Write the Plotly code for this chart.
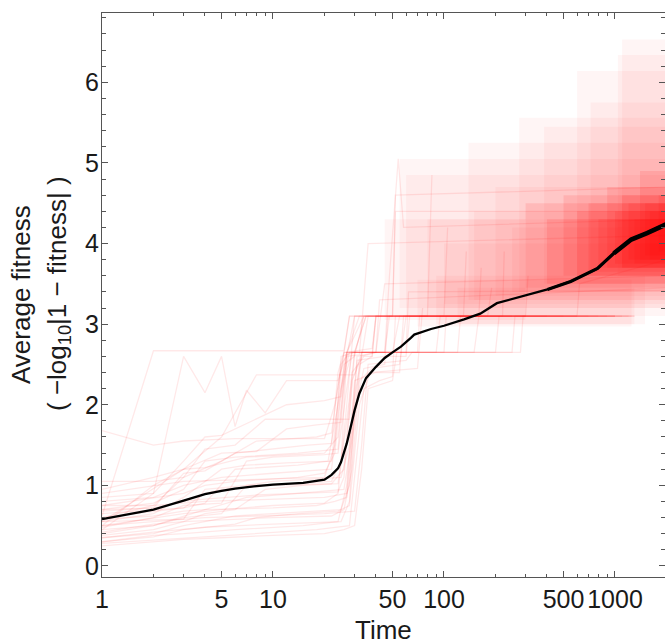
import plotly.graph_objects as go

# ---------------- data ----------------
# mean fitness curve (time, value)
mean_t = [1, 2, 3, 4, 5, 6, 8, 10, 15, 18, 20, 22, 24, 25, 26, 27, 28, 30, 32, 35, 40, 45, 50,
          56, 64, 67, 84, 100, 131, 163, 204, 280, 403, 551, 790, 985, 1245, 1540, 1940, 2000]
mean_v = [0.58, 0.70, 0.81, 0.89, 0.93, 0.96, 0.99, 1.01, 1.03, 1.05, 1.07, 1.13, 1.21, 1.29, 1.40,
          1.52, 1.66, 1.93, 2.14, 2.33, 2.47, 2.58, 2.65, 2.72, 2.83, 2.87, 2.94, 2.98, 3.06, 3.13,
          3.26, 3.34, 3.43, 3.53, 3.69, 3.88, 4.05, 4.13, 4.23, 4.24]

# individual runs: breakpoints (time, value)
runs = [
    [(1,0.62),(2,2.67),(26,2.67),(28,3.1),(600,3.1),(620,3.5),(2000,3.8)],
    [(1,0.45),(2,0.9),(3,2.6),(4,2.15),(5,2.6),(6,1.73),(7,2.18),(9,1.9),(12,2.3),(24,2.3),(27,2.65),(250,2.65),(260,3.1),(1000,3.1)],
    [(1,0.55),(3,1.2),(5,1.6),(8,2.37),(30,2.37),(33,2.65),(60,2.65),(62,3.4),(2000,3.42)],
    [(1,0.35),(2,0.42),(4,0.48),(10,0.52),(25,0.55),(28,0.8),(30,1.9),(34,2.45),(45,2.5),(47,3.1),(300,3.1),(310,3.6)],
    [(1,0.8),(2,0.85),(3,1.0),(5,1.1),(10,1.15),(22,1.2),(25,2.2),(28,2.65),(150,2.65),(160,3.1),(800,3.1)],
    [(1,0.3),(2,0.38),(3,0.4),(6,0.45),(15,0.5),(24,0.55),(27,1.0),(30,2.3),(40,2.4),(55,2.4),(58,3.1),(1200,3.1)],
    [(1,1.68),(2,1.5),(3,1.55),(6,1.58),(20,1.58),(23,2.0),(26,2.65),(45,2.65),(48,3.1),(130,3.1),(135,3.9)],
    [(1,0.7),(2,0.78),(3,0.95),(4,1.3),(6,1.35),(14,1.4),(24,1.45),(26,2.3),(29,2.65),(70,2.65),(72,3.1),(400,3.1)],
    [(1,0.5),(2,0.6),(3,0.65),(5,0.7),(10,0.75),(20,0.78),(24,0.9),(27,2.0),(30,3.1),(180,3.1),(190,3.45)],
    [(1,0.9),(2,1.0),(3,1.05),(10,1.08),(20,1.1),(23,1.5),(25,2.6),(30,2.65),(35,3.1),(100,3.1),(105,4.2)],
    [(1,0.4),(2,0.5),(4,0.7),(7,0.85),(14,0.9),(26,0.95),(29,1.6),(32,2.5),(38,2.6),(40,3.1),(1300,3.1)],
    [(1,0.6),(2,0.75),(3,1.1),(4,1.45),(6,1.5),(9,1.82),(28,1.82),(30,2.65),(90,2.65),(95,3.1),(700,3.1)],
    [(1,0.28),(2,0.32),(3,0.35),(8,0.4),(18,0.45),(28,0.5),(31,1.4),(34,2.2),(42,2.3),(50,2.35),(52,3.1),(500,3.1)],
    [(1,0.75),(2,0.75),(4,0.8),(8,0.82),(20,0.85),(27,0.9),(30,2.1),(33,2.6),(40,2.65),(42,3.3),(2000,3.45)],
    [(1,0.55),(2,0.65),(3,0.85),(5,1.2),(7,1.25),(12,1.28),(22,1.3),(25,2.4),(28,3.1),(50,3.1),(52,4.6),(2000,4.7)],
    [(1,0.45),(2,0.5),(3,0.6),(5,0.65),(7,1.0),(10,1.05),(25,1.1),(28,1.5),(31,2.55),(45,2.6),(60,2.6),(63,3.1),(250,3.1)],
    [(1,1.05),(2,1.05),(3,1.1),(5,1.3),(8,1.55),(18,1.6),(22,1.65),(25,2.5),(28,2.65),(45,2.65),(48,3.6),(54,5.05),(58,4.2),(2000,4.3)],
    [(1,0.65),(2,0.7),(3,0.72),(4,0.9),(5,0.95),(10,1.0),(22,1.02),(26,1.2),(29,2.4),(34,2.6),(38,2.6),(40,3.1),(160,3.1),(165,3.7)],
    [(1,0.5),(2,0.55),(3,0.58),(4,0.6),(8,0.62),(20,0.65),(30,0.68),(33,1.5),(36,2.5),(60,2.55),(65,2.65),(200,2.65),(210,3.1)],
    [(1,0.38),(2,0.45),(3,0.55),(4,0.65),(6,0.7),(9,0.95),(15,1.0),(24,1.02),(27,1.8),(30,2.65),(35,3.1),(1100,3.1)],
    [(1,0.85),(2,0.9),(3,1.3),(4,1.6),(5,1.62),(12,2.0),(20,2.05),(25,2.1),(27,2.65),(38,2.7),(40,3.1),(900,3.1)],
    [(1,0.3),(2,0.36),(3,0.45),(6,0.52),(8,0.6),(14,0.65),(24,0.68),(28,0.75),(32,2.0),(37,2.4),(70,2.45),(75,3.2)],
    [(1,0.6),(2,0.68),(3,0.72),(4,0.78),(6,1.2),(14,1.25),(21,1.3),(24,2.0),(27,2.65),(32,3.1),(1000,3.1)],
    [(1,0.42),(2,0.52),(3,0.55),(5,0.57),(10,0.6),(22,0.62),(26,0.7),(29,1.2),(32,2.3),(38,2.45),(55,2.5),(60,3.1),(300,3.1)],
    [(1,0.7),(2,0.72),(3,1.15),(4,1.18),(6,1.4),(10,1.45),(16,1.5),(22,1.52),(24,2.4),(26,2.65),(40,2.65),(45,3.5),(2000,3.6)],
    [(1,0.5),(2,1.0),(3,1.2),(5,1.4),(8,1.42),(12,1.7),(18,1.75),(25,1.78),(27,2.6),(30,3.1),(80,3.1),(85,4.85)],
    [(1,0.58),(2,0.62),(3,0.68),(4,0.7),(10,0.72),(18,0.75),(23,0.8),(27,0.85),(30,1.8),(33,2.65),(280,2.65),(290,3.1),(1250,3.1)],
    [(1,0.95),(2,1.1),(3,1.2),(4,1.22),(7,1.35),(12,1.38),(20,1.4),(24,1.6),(27,2.65),(34,3.1),(600,3.1)],
    [(1,0.25),(2,0.3),(3,0.33),(5,0.35),(10,0.38),(20,0.4),(26,0.45),(30,0.5),(33,1.2),(36,2.2),(50,2.3),(53,2.65),(120,2.65),(125,3.1)],
    [(1,0.75),(2,0.85),(3,0.9),(4,1.0),(6,1.05),(14,1.1),(20,1.15),(23,1.4),(26,2.5),(30,2.6),(34,3.1),(220,3.1),(225,3.9)],
    [(1,0.35),(2,0.4),(3,0.5),(4,0.55),(6,0.62),(10,0.65),(25,0.7),(28,1.0),(31,2.6),(40,2.65),(100,2.65),(103,3.1),(1000,3.1)],
    [(1,0.55),(3,0.58),(4,0.95),(7,1.0),(13,1.02),(22,1.05),(25,1.3),(27,2.6),(32,2.62),(36,4.0),(2000,4.1)],
    [(1,0.68),(2,0.72),(3,0.8),(4,0.83),(8,0.88),(16,0.9),(24,0.92),(26,1.1),(29,2.3),(33,2.6),(36,3.1),(50,3.1),(52,4.4),(2000,4.4)],
    [(1,0.48),(2,0.6),(3,0.75),(5,0.78),(7,1.3),(10,1.35),(20,1.38),(24,1.4),(27,2.2),(29,2.65),(50,2.65),(55,3.1),(1300,3.1)],
]

# faint outer fluctuation ranges of late runs: time window and value range
outer_t0 = [55, 139, 275, 385, 600, 720, 1040, 1100, 45, 60, 80, 100, 150, 200, 250, 90, 120, 70]
outer_t1 = [2000, 2000, 2000, 2000, 2000, 2000, 2000, 2000, 300, 2000, 2000, 2000, 2000, 2000, 2000, 1500, 1300, 1250]
outer_lo = [3.2, 3.3, 3.4, 3.5, 3.5, 3.6, 3.6, 3.7, 3.05, 3.1, 3.2, 3.25, 3.3, 3.35, 3.4, 3.0, 3.0, 2.97]
outer_hi = [5.05, 5.25, 5.56, 5.45, 6.14, 5.75, 6.34, 6.53, 4.3, 4.85, 4.3, 4.0, 4.4, 4.7, 4.2, 3.6, 3.45, 3.55]

# dense core fluctuation ranges of late runs
core_t0 = [300, 400, 500, 600, 700, 800, 900, 1000, 1100, 1200, 1300, 1400, 1500, 1600, 1800]
core_t1 = [2000] * 15
core_lo = [3.45, 3.5, 3.6, 3.6, 3.65, 3.7, 3.7, 3.75, 3.7, 3.8, 3.75, 3.8, 3.85, 3.8, 3.9]
core_hi = [4.5, 4.3, 4.6, 4.4, 4.5, 4.3, 4.7, 4.4, 4.6, 4.5, 4.3, 4.9, 4.5, 4.4, 4.6]

x_tickvals = [1, 5, 10, 50, 100, 500, 1000]
x_ticktext = ["1", "5", "10", "50", "100", "500", "1000"]
x_minor = [2, 3, 4, 6, 7, 8, 9, 20, 30, 40, 60, 70, 80, 90, 200, 300, 400, 600, 700, 800, 900]

# ---------------- figure ----------------
fig = go.Figure()


def add_bands(t0s, t1s, los, his, color):
    for t0, t1, lo, hi in zip(t0s, t1s, los, his):
        fig.add_trace(go.Scatter(
            x=[t0, t1, t1, t0, t0], y=[lo, lo, hi, hi, lo],
            mode="lines", fill="toself", fillcolor=color,
            line=dict(width=0), hoverinfo="skip", showlegend=False))


add_bands(outer_t0, outer_t1, outer_lo, outer_hi, "rgba(255,0,0,0.04)")
add_bands(core_t0, core_t1, core_lo, core_hi, "rgba(255,0,0,0.10)")

for r in runs:
    fig.add_trace(go.Scatter(
        x=[p[0] for p in r], y=[p[1] for p in r], mode="lines",
        line=dict(color="rgba(255,0,0,0.09)", width=1.3),
        hoverinfo="skip", showlegend=False))

fig.add_trace(go.Scatter(x=mean_t, y=mean_v, mode="lines",
                         line=dict(color="black", width=2.3), showlegend=False))
late = [i for i, t in enumerate(mean_t) if t >= 403]
fig.add_trace(go.Scatter(x=[mean_t[i] for i in late], y=[mean_v[i] for i in late], mode="lines",
                         line=dict(color="black", width=3.2), showlegend=False))
later = [i for i, t in enumerate(mean_t) if t >= 985]
fig.add_trace(go.Scatter(x=[mean_t[i] for i in later], y=[mean_v[i] for i in later], mode="lines",
                         line=dict(color="black", width=4.6), showlegend=False))

axcol = "#555555"
font_tick = dict(family="Liberation Sans, Arial, sans-serif", size=25, color="#1a1a1a")

fig.update_xaxes(
    type="log", range=[0, 3.2925], tickvals=x_tickvals, ticktext=x_ticktext,
    ticks="inside", ticklen=6, tickwidth=1, tickcolor=axcol,
    showline=True, linecolor=axcol, linewidth=1.2, mirror="ticks",
    showgrid=False, zeroline=False, tickfont=font_tick, ticklabelstandoff=0,
    minor=dict(tickvals=x_minor, ticks="inside", ticklen=3, tickcolor=axcol, showgrid=False),
)
fig.update_yaxes(
    range=[-0.137, 6.86], tick0=0, dtick=1,
    ticks="inside", ticklen=6, tickwidth=1, tickcolor=axcol,
    showline=True, linecolor=axcol, linewidth=1.2, mirror="ticks",
    showgrid=False, zeroline=False, tickfont=font_tick, ticklabelstandoff=-3,
    minor=dict(dtick=0.2, tick0=0, ticks="inside", ticklen=4, tickcolor=axcol, showgrid=False),
)

title_font = dict(family="Liberation Sans, Arial, sans-serif", size=26, color="#1a1a1a")
fig.add_annotation(text="Time", xref="paper", yref="paper", x=0.5, y=(577 - 630) / 564,
                   xanchor="center", yanchor="middle", showarrow=False, font=title_font)
fig.add_annotation(text="Average fitness", xref="paper", yref="paper",
                   x=(21 - 102) / 563, y=(577 - 295) / 564, textangle=-90,
                   xanchor="center", yanchor="middle", showarrow=False, font=title_font)
fig.add_annotation(text="( \u2212log<sub>10</sub>|1 \u2212 fitness| )", xref="paper", yref="paper",
                   x=(58 - 102) / 563, y=(577 - 293) / 564, textangle=-90,
                   xanchor="center", yanchor="middle", showarrow=False, font=title_font)

fig.update_layout(
    width=665, height=644,
    margin=dict(l=102, r=0, t=13, b=67),
    plot_bgcolor="white", paper_bgcolor="white",
    showlegend=False,
)

fig.write_html("out.html", config={"displayModeBar": False},
               post_script="document.body.style.margin='0';")
